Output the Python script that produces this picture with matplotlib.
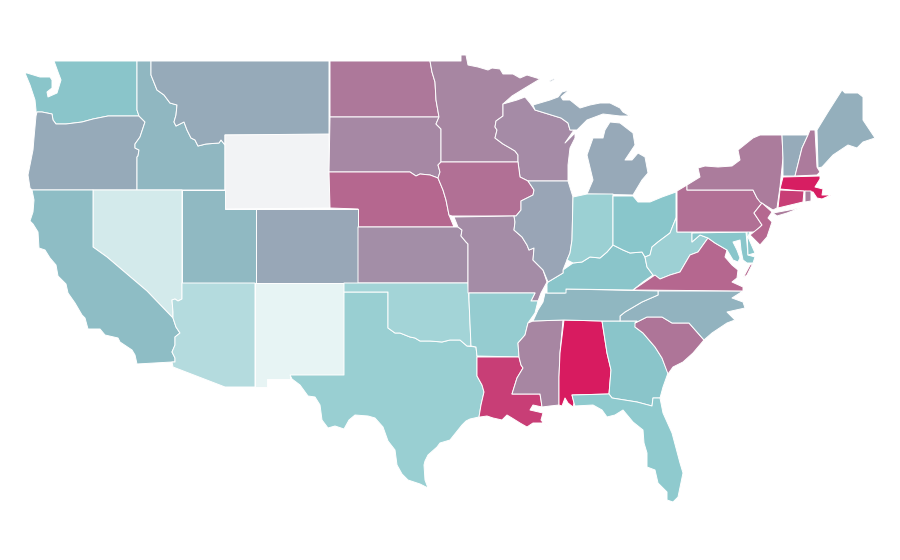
import matplotlib
matplotlib.use('Agg')
import matplotlib.pyplot as plt
from matplotlib.collections import PolyCollection
from matplotlib.colors import LinearSegmentedColormap, Normalize

# State outlines (x, y in image pixels)
WA = [(54,61),(137,61),(137,110),(139,116),(108,116),(93,119),(82,122),(66,124),(62,124),(56,124),(53,120),(52,114),(42,112),(37,112),(36,116),
      (36,110),(35,100),(34,97),(30,85),(25,73),(27,73),(40,77),(50,77),(52,80),(52,88),(47,92),(48,97),(57,93),(61,80),(58,72)]
OR = [(36,116),(37,112),(42,112),(52,114),(53,120),(56,124),(62,124),(66,124),(82,122),(93,119),(108,116),(139,116),(145,122),(143,128),(140,137),(135,144),(135,148),(139,150),(138,156),(137,157),(137,190),
      (32,190),(30,188),(28,175),(30,165),(33,150),(34,138)]
ID = [(137,61),(151,61),(151,75),(153,80),(157,90),(164,95),(170,103),(177,105),(176,115),(174,122),(176,126),(184,122),(187,130),(191,138),(195,140),(198,146),(206,144),(219,143),(221,140),(225,145),
      (225,190),(137,190),(137,157),(138,156),(139,150),(135,148),(135,144),(140,137),(143,128),(145,122),(139,116),(137,110)]
MT = [(151,61),(329,61),(329,135),(225,135),(225,145),(221,140),(219,143),(206,144),(198,146),(195,140),(191,138),(187,130),(184,122),(176,126),(174,122),(176,115),(177,105),(170,103),(164,95),(157,90),(153,80),(151,75)]
WY = [(225,135),(329,134),(330,208),(225,209)]
ND = [(330,61),(430,61),(432,72),(435,82),(436,100),(439,117),(330,117)]
SD = [(330,117),(439,117),(436,124),(441,129),(441,162),(438,165),(440,172),(438,178),(430,175),(420,174),(416,176),(410,172),(329,172)]
NE = [(329,172),(410,172),(416,176),(420,174),(430,175),(438,178),(443,190),(446,200),(449,215),(454,227),(458,227),(358,227),(358,209),(330,208)]
CO = [(256,209),(358,209),(358,283),(256,283)]
KS = [(358,227),(458,227),(462,230),(461,236),(466,242),(468,244),(468,283),(358,283)]
UT = [(182,190),(225,190),(225,209),(256,209),(256,283),(182,283)]
NV = [(93,190),(182,190),(182,299),(178,301),(175,299),(172,300),(173,312),(173,318),(147,291),(107,257),(93,247)]
CA = [(32,190),(93,190),(93,247),(107,257),(147,291),(173,318),(176,327),(180,333),(175,337),(175,345),(172,352),(175,358),(175,362),(172,362),(137,364),(135,355),(132,350),(120,342),(118,338),(105,335),(100,329),(88,329),(85,318),(82,315),(75,303),(68,293),(66,284),(58,276),(56,265),(50,258),(45,250),(39,248),(38,232),(33,224),(30,221),(33,212),(34,200)]
AZ = [(182,283),(255,283),(255,387),(225,387),(173,367),(172,362),(175,362),(175,358),(172,352),(175,345),(175,337),(180,333),(176,327),(173,318),(173,312),(172,300),(175,299),(178,301),(182,299)]
NM = [(255,283),(344,283),(344,375),(290,375),(290,379),(267,379),(267,387),(255,387)]
TX = [(344,292),(388,292),(388,328),(395,333),(400,333),(410,337),(415,338),(420,341),(430,341),(442,342),(450,340),(460,340),(467,346),(476,347),(477,356),(477,376),(482,385),(484,392),(481,405),(479,417),(470,419),(466,421),(462,425),(450,440),(440,443),(437,447),(428,455),(425,461),(424,465),(425,480),(428,488),(420,484),(408,480),(402,474),(397,465),(395,450),(388,441),(383,427),(375,418),(368,416),(355,415),(349,420),(344,429),(335,426),(328,428),(322,420),(320,405),(315,397),(308,396),(300,385),(292,379),(290,375),(344,375)]
OK = [(344,283),(468,283),(469,300),(471,346),(467,346),(460,340),(450,340),(442,342),(430,341),(420,341),(415,338),(410,337),(400,333),(395,333),(388,328),(388,292),(344,292)]
MN = [(430,61),(461,61),(461,55),(466,55),(468,65),(478,67),(488,70),(492,68),(500,69),(503,74),(513,74),(520,78),(527,75),(540,79),(525,88),(512,96),(503,104),(503,116),(496,121),(495,127),(497,130),(495,138),(503,144),(510,148),(515,151),(518,155),(518,162),(441,162),(441,129),(436,124),(439,117),(436,100),(435,82),(432,72)]
WI = [(503,104),(517,100),(525,97),(530,103),(535,110),(561,118),(568,123),(570,130),(574,130),(565,143),(575,133),(575,138),(570,148),(568,165),(568,181),(528,181),(520,177),(518,162),(518,155),(515,151),(510,148),(503,144),(495,138),(497,130),(495,127),(496,121),(503,116)]
MI_UP = [(533,105),(550,100),(558,97),(562,92),(569,90),(561,97),(563,100),(570,100),(580,108),(590,105),(600,103),(610,103),(620,108),(623,112),(630,116),(620,116),(603,114),(587,120),(577,130),(574,130),(570,130),(568,123),(561,118),(535,110)]
MI_LP = [(587,194),(633,195),(642,180),(648,173),(645,157),(638,153),(632,160),(625,160),(635,145),(633,133),(620,123),(610,122),(605,130),(603,138),(593,138),(587,155),(593,180)]
MI_ISLE = [(549,81),(555,78),(554,80),(550,82)]
IA = [(441,162),(518,162),(520,177),(528,181),(534,190),(533,195),(521,201),(521,210),(516,216),(514,216),(452,216),(449,215),(446,200),(443,190),(438,178),(440,172),(438,165)]
MO = [(454,217),(514,216),(515,222),(514,230),(522,237),(527,245),(529,250),(534,248),(533,260),(543,270),(547,282),(541,293),(538,301),(531,301),(535,293),(468,293),(468,244),(466,242),(461,236),(462,230),(458,227)]
AR = [(469,293),(535,293),(531,301),(538,301),(535,313),(528,323),(525,335),(518,343),(519,357),(477,356),(476,347),(471,346),(469,300)]
LA = [(477,357),(519,357),(521,365),(523,368),(517,378),(512,394),(540,394),(541,400),(542,407),(533,405),(530,410),(543,413),(541,420),(548,428),(543,423),(533,423),(527,427),(520,423),(512,418),(507,415),(502,420),(493,418),(487,416),(480,417),(479,417),(481,405),(484,392),(482,385),(477,376)]
MS = [(533,321),(563,320),(560,353),(559,377),(559,405),(550,406),(542,407),(541,400),(540,394),(512,394),(517,378),(523,368),(521,365),(519,357),(518,343),(525,335),(528,323)]
AL = [(564,320),(602,321),(607,353),(611,370),(609,394),(572,395),(574,403),(573,407),(568,403),(565,398),(562,406),(559,405),(559,377),(560,353)]
GA = [(602,321),(637,321),(635,327),(643,333),(655,347),(662,358),(668,373),(663,387),(660,398),(653,398),(652,406),(637,402),(612,398),(609,394),(611,370),(607,353)]
FL = [(572,395),(609,394),(612,398),(637,402),(652,406),(653,398),(660,398),(663,413),(672,433),(680,463),(683,473),(678,497),(673,502),(667,500),(667,492),(658,483),(655,470),(647,467),(647,453),(644,443),(643,430),(633,422),(623,410),(615,415),(607,417),(602,410),(593,405),(575,406),(574,403)]
SC = [(635,323),(647,317),(662,317),(672,323),(689,323),(704,340),(693,353),(683,362),(673,367),(668,374),(662,358),(655,347),(643,333),(635,327)]
NC = [(658,291),(743,291),(732,298),(743,302),(745,308),(727,312),(735,320),(727,323),(712,333),(704,340),(689,323),(672,323),(662,317),(647,317),(635,323),(637,321),(620,321),(620,316),(625,312),(642,302),(658,295)]
TN = [(545,293),(565,293),(566,289),(658,291),(658,295),(642,302),(625,312),(620,316),(620,321),(602,321),(564,320),(533,321),(538,310),(543,302)]
KY = [(547,293),(566,293),(566,289),(633,290),(643,282),(653,275),(647,267),(645,257),(642,252),(630,253),(623,250),(613,245),(607,252),(600,258),(590,257),(582,262),(573,263),(563,270),(563,273),(548,282),(547,284)]
IL = [(528,181),(568,181),(573,197),(572,240),(570,253),(567,260),(563,270),(563,273),(548,282),(543,270),(533,260),(534,248),(529,250),(527,245),(522,237),(514,230),(515,222),(514,216),(516,216),(521,210),(521,201),(533,195),(534,190)]
IN = [(573,197),(587,194),(613,194),(613,245),(607,252),(600,258),(590,257),(582,262),(573,263),(567,260),(570,253),(572,240)]
OH = [(613,196),(633,196),(638,202),(650,202),(662,197),(676,192),(676,218),(670,233),(658,242),(652,247),(650,255),(645,257),(642,252),(630,253),(623,250),(613,245)]
WV = [(676,218),(677,232),(692,232),(692,242),(700,235),(708,238),(698,252),(690,255),(680,272),(670,275),(660,279),(653,275),(647,267),(645,257),(650,255),(652,247),(658,242),(670,233)]
VA = [(633,290),(655,275),(660,279),(670,275),(680,272),(690,255),(698,252),(708,238),(715,243),(727,250),(725,257),(732,265),(738,270),(737,278),(732,282),(743,287),(743,291)]
VA_SHORE = [(750,265),(753,263),(747,275),(743,278)]
MD = [(692,233),(746,232),(748,255),(755,257),(753,263),(747,263),(743,260),(741,250),(740,240),(733,242),(737,250),(740,258),(738,262),(733,260),(727,250),(715,243),(708,238),(700,235),(692,242)]
DE = [(747,231),(750,231),(748,237),(755,253),(748,255)]
PA = [(677,191),(687,185),(687,190),(753,190),(757,198),(762,203),(754,213),(762,225),(755,232),(677,232)]
NY = [(687,185),(700,177),(698,168),(705,166),(718,167),(732,166),(740,160),(738,150),(753,138),(760,135),(782,135),(783,158),(780,187),(777,208),(773,210),(760,202),(757,198),(753,190),(687,190)]
NY_LI = [(773,213),(800,208),(787,213),(777,216)]
NJ = [(762,203),(772,212),(768,218),(772,222),(767,237),(760,245),(750,235),(760,227),(762,225),(754,213)]
VT = [(782,135),(808,135),(802,148),(795,176),(783,176),(783,158)]
NH = [(810,130),(815,130),(817,167),(820,172),(817,175),(795,176),(802,148),(808,135)]
ME = [(817,130),(828,112),(842,90),(845,93),(858,93),(863,97),(863,120),(875,138),(863,142),(857,148),(848,145),(833,155),(822,167),(818,168)]
MA = [(783,177),(820,176),(820,179),(815,187),(823,189),(822,195),(831,195),(822,199),(817,198),(813,192),(780,189)]
CT = [(780,190),(804,191),(803,202),(778,208)]
RI = [(805,191),(811,191),(811,201),(805,202)]

outlines = [WA, OR, ID, MT, WY, ND, SD, NE, CO, KS, UT, NV, CA, AZ, NM, TX, OK, MN, WI,
            MI_UP, MI_LP, MI_ISLE, IA, MO, AR, LA, MS, AL, GA, FL, SC, NC, TN, KY, IL, IN, OH,
            WV, VA, VA_SHORE, MD, DE, PA, NY, NY_LI, NJ, VT, NH, ME, MA, CT, RI]

# Value of each outline, same order (nan = no data, Wyoming)
nan = float('nan')
values = [50.5, 58.5, 54.5, 58.5, nan, 73, 68, 78, 59, 66.5, 54, 19, 53, 32, 10.5, 43, 39, 69, 67.5,
          58.7, 58.7, 58.7, 75, 67, 45, 89.5, 69, 100, 50.5, 47.5, 73.5, 55.5, 54.5, 50.5, 60, 42.5, 50,
          41.5, 78, 78, 50, 50, 75, 71.5, 71.5, 77.5, 58, 72, 57, 99, 89.5, 71]

scale_colors = ['#ffffff', '#89c7cb', '#d81b60']
no_data_color = '#f2f3f5'

cmap = LinearSegmentedColormap.from_list('teal_pink', scale_colors)
cmap.set_bad(no_data_color)
norm = Normalize(vmin=0, vmax=100)

fig = plt.figure(figsize=(9, 5.6), dpi=100)
ax = fig.add_axes([0, 0, 1, 1])

states = PolyCollection(outlines, array=values, cmap=cmap, norm=norm,
                        edgecolors='white', linewidths=0.7)
ax.add_collection(states)

ax.set_xlim(0, 900)
ax.set_ylim(560, 0)
ax.axis('off')

fig.savefig('out.png', dpi=100)
